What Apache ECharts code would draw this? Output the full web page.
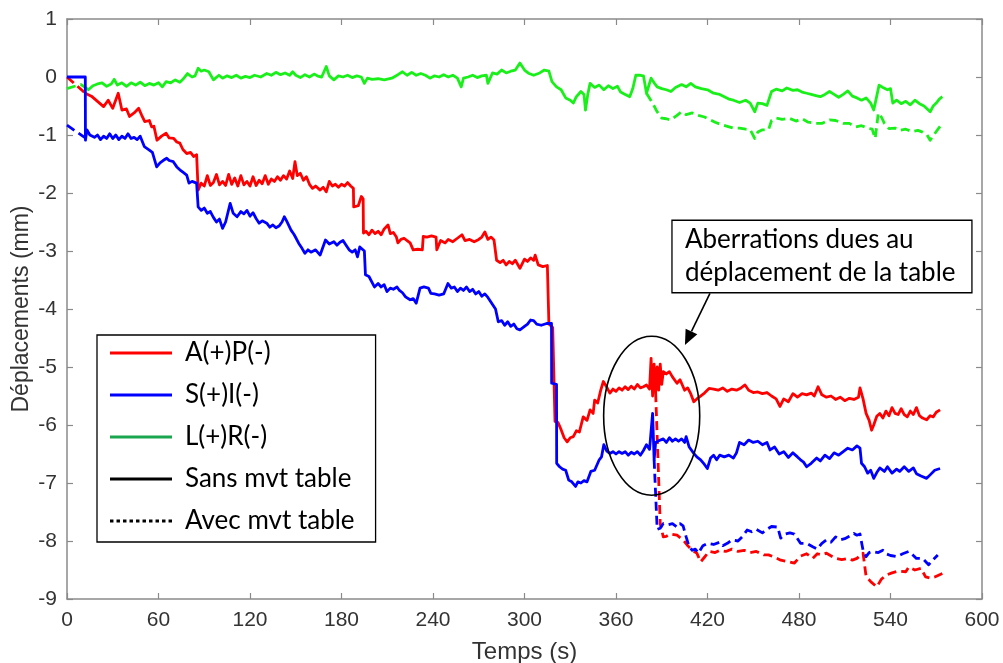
<!DOCTYPE html>
<html><head><meta charset="utf-8">
<script src="https://cdn.jsdelivr.net/npm/echarts@6/dist/echarts.min.js"></script>
<style>html,body{margin:0;padding:0;background:#fff}#c{width:1003px;height:663px}</style>
</head><body><div id="c"></div>
<script>
// ---- data: [time (s), displacement (mm)] ----
const redSans = [[12,-0.28],[16,-0.33],[20,-0.42],[24,-0.51],[27,-0.40],[30,-0.54],[33.6,-0.28],[36,-0.57],[39,-0.55],[41,-0.68],[44,-0.62],[47,-0.54],[49,-0.66],[51,-0.77],[54,-0.75],[55.5,-0.86],[57,-0.85],[59,-1.09],[62,-1.02],[65,-0.97],[67,-1.05],[70,-1.06],[72,-1.12],[74,-1.14],[76,-1.25],[78.5,-1.32],[81,-1.30],[83,-1.37],[85,-1.34],[86,-1.95],[88,-1.83],[90,-1.88],[92,-1.70],[94,-1.87],[96,-1.82],[98,-1.68],[100,-1.86],[102,-1.80],[104,-1.87],[106,-1.68],[108,-1.85],[110,-1.74],[112,-1.88],[114,-1.70],[116,-1.86],[118,-1.80],[120,-1.88],[122,-1.72],[124,-1.87],[126,-1.78],[128,-1.84],[130,-1.70],[132,-1.85],[134,-1.76],[136,-1.80],[138,-1.72],[140,-1.78],[142,-1.70],[144,-1.76],[146,-1.62],[148,-1.75],[149.5,-1.46],[151,-1.70],[153,-1.66],[155,-1.78],[157,-1.72],[159,-1.85],[161,-1.92],[163,-1.88],[166,-1.95],[168,-1.90],[170,-1.98],[172,-1.80],[174,-1.88],[176,-1.85],[178,-1.90],[180,-1.85],[182,-1.88],[184,-1.82],[186,-1.88],[187.8,-1.92],[188,-2.24],[191,-2.22],[193,-2.06],[194.2,-2.10],[194.4,-2.69],[196,-2.66],[198,-2.72],[200,-2.64],[202,-2.70],[204,-2.66],[206,-2.72],[208,-2.62],[210.5,-2.55],[212,-2.70],[214,-2.68],[216,-2.76],[217,-2.86],[219,-2.80],[221,-2.78],[223,-2.82],[225,-2.86],[227,-2.98],[230,-2.97],[233,-2.98],[233.6,-2.75],[236,-2.76],[239,-2.74],[242,-2.76],[242.5,-2.98],[245,-2.82],[248,-2.86],[250,-2.80],[253,-2.84],[256,-2.78],[259,-2.72],[261,-2.82],[264,-2.80],[267,-2.84],[270,-2.80],[272,-2.76],[274,-2.67],[276,-2.80],[278,-2.76],[280,-2.81],[281.7,-3.16],[284,-3.20],[286,-3.16],[288,-3.24],[290,-3.18],[292,-3.22],[294,-3.16],[297,-3.30],[300,-3.14],[302,-3.18],[304,-3.12],[306,-3.16],[307,-3.07],[309,-3.24],[312,-3.27],[315,-3.25],[316,-4.26],[318.5,-4.32],[320,-5.94],[322,-5.96],[324,-6.08],[326,-6.22],[328,-6.29],[330,-6.22],[332,-6.20],[334,-6.10],[336,-6.12],[338.5,-5.86],[341,-5.92],[343,-5.74],[345,-5.80],[346,-5.57],[348,-5.62],[350,-5.40],[351.7,-5.25],[354,-5.35],[356,-5.45],[358,-5.38],[360,-5.42],[362,-5.36],[364,-5.40],[366,-5.34],[368,-5.39],[370,-5.33],[372,-5.38],[374,-5.30],[376,-5.36],[378,-5.34],[380,-5.31],[382,-5.38],[383,-4.85],[384,-5.50],[385,-4.95],[386,-5.45],[387,-5.00],[388,-5.40],[389,-4.95],[390,-5.30],[391,-5.08],[393,-5.12],[395,-5.08],[397,-5.17],[400,-5.28],[402,-5.22],[405,-5.40],[407,-5.36],[409,-5.46],[411,-5.60],[413,-5.55],[415,-5.51],[418,-5.45],[421,-5.37],[424,-5.38],[427,-5.40],[430,-5.36],[433,-5.42],[436,-5.38],[439,-5.40],[442,-5.36],[444.6,-5.31],[447,-5.40],[450,-5.44],[453,-5.43],[456,-5.46],[459,-5.44],[462,-5.50],[465,-5.55],[467.5,-5.68],[470,-5.55],[473,-5.60],[476,-5.46],[479,-5.52],[482,-5.46],[485,-5.48],[488,-5.45],[490,-5.50],[492.5,-5.34],[495,-5.48],[498,-5.52],[501,-5.50],[504,-5.56],[507,-5.52],[510,-5.58],[513,-5.54],[516,-5.56],[519,-5.52],[520,-5.36],[522,-5.55],[524,-5.80],[526,-5.92],[527.6,-6.09],[529,-6.00],[531,-5.85],[533,-5.80],[535,-5.88],[537,-5.76],[539,-5.84],[541,-5.70],[543,-5.80],[545,-5.82],[547,-5.72],[549,-5.82],[551,-5.86],[553,-5.76],[555,-5.82],[557,-5.70],[559,-5.84],[561,-5.88],[563.7,-5.91],[566,-5.84],[568,-5.86],[570,-5.78],[572.5,-5.74]];

const blueSans = [[0,0],[12,0],[12.1,-1.09],[13,-0.91],[15,-1.0],[18,-1.04],[20,-1.0],[22,-1.08],[24,-1.02],[26,-1.06],[28,-0.98],[30,-1.06],[32,-1.0],[34,-1.08],[36,-1.02],[38,-1.06],[40,-0.98],[42,-1.06],[44,-1.04],[46,-1.08],[48,-1.02],[50.7,-1.2],[52,-1.18],[54,-1.26],[56,-1.3],[58.8,-1.55],[61,-1.48],[63,-1.44],[65.4,-1.40],[67,-1.44],[69.7,-1.46],[72,-1.55],[74,-1.60],[76,-1.64],[78.5,-1.69],[80,-1.83],[82,-1.80],[85,-1.83],[86,-2.24],[88,-2.30],[90,-2.26],[92,-2.35],[94,-2.32],[96,-2.42],[98,-2.50],[100,-2.45],[102,-2.61],[104,-2.50],[107,-2.18],[109,-2.35],[111.5,-2.41],[114,-2.32],[116,-2.36],[118,-2.30],[120,-2.40],[122,-2.34],[124,-2.44],[126,-2.52],[128,-2.48],[131,-2.52],[133,-2.59],[135,-2.55],[137,-2.60],[139,-2.57],[141,-2.50],[142.5,-2.41],[144,-2.48],[146.9,-2.64],[149,-2.72],[152,-2.87],[154,-2.95],[156,-3.04],[158,-2.98],[160,-3.02],[163,-2.98],[166,-3.07],[169.5,-2.81],[172,-2.88],[175,-2.84],[177,-2.90],[179,-2.85],[181,-2.82],[183,-2.90],[185,-2.98],[187,-3.02],[189,-2.98],[190.5,-3.10],[192,-2.93],[195,-3.00],[195.7,-3.41],[198,-3.44],[201.6,-3.62],[204,-3.56],[206,-3.62],[208,-3.58],[209.8,-3.70],[212,-3.64],[214,-3.66],[216.4,-3.62],[218,-3.68],[220,-3.72],[222,-3.79],[225,-3.84],[227,-3.82],[229,-3.90],[231.5,-3.64],[234,-3.62],[237,-3.64],[238.6,-3.73],[241,-3.74],[244,-3.76],[247,-3.74],[249.8,-3.56],[252,-3.64],[254,-3.62],[256,-3.70],[258,-3.64],[260,-3.68],[262,-3.62],[264,-3.70],[266,-3.66],[268,-3.74],[270,-3.70],[272,-3.78],[274,-3.74],[276,-3.80],[278.5,-3.90],[281,-4.00],[282.8,-4.22],[285,-4.20],[287,-4.28],[289,-4.22],[291,-4.30],[293,-4.26],[295,-4.34],[297,-4.36],[300,-4.30],[302,-4.26],[304,-4.19],[306,-4.20],[308,-4.26],[311,-4.28],[314.5,-4.25],[317.7,-4.25],[317.8,-5.28],[321,-5.30],[321.1,-6.66],[323,-6.72],[325,-6.76],[327,-6.78],[329,-6.95],[331,-6.98],[333.5,-7.06],[335,-6.98],[337,-7.00],[339,-6.96],[341,-6.98],[343.5,-6.80],[346,-6.78],[349,-6.60],[350.5,-6.55],[352,-6.34],[354,-6.45],[356,-6.49],[358,-6.46],[360,-6.50],[362,-6.46],[364,-6.49],[366,-6.46],[368,-6.52],[370,-6.47],[372,-6.50],[374,-6.46],[376,-6.52],[378,-6.44],[380,-6.34],[382,-6.42],[384,-5.80],[385,-6.60],[386,-6.30],[387,-6.31],[389,-6.26],[391,-6.24],[393,-6.30],[395,-6.22],[397,-6.28],[399,-6.24],[401,-6.28],[403,-6.24],[405,-6.30],[406,-6.20],[408,-6.38],[411,-6.49],[413,-6.55],[415.5,-6.60],[418,-6.68],[419.9,-6.75],[422,-6.57],[424,-6.52],[426,-6.60],[428,-6.52],[431,-6.55],[434,-6.52],[437,-6.57],[439,-6.48],[441,-6.30],[444,-6.34],[447,-6.26],[450,-6.30],[453,-6.28],[456,-6.34],[459,-6.30],[461,-6.43],[464,-6.38],[467,-6.50],[470,-6.46],[473,-6.56],[476,-6.48],[479,-6.55],[481,-6.60],[483,-6.64],[485,-6.72],[488,-6.66],[491.6,-6.57],[494,-6.62],[497,-6.52],[500,-6.58],[503,-6.48],[506,-6.52],[509,-6.46],[512,-6.40],[515,-6.43],[518,-6.36],[520,-6.40],[521,-6.66],[523,-6.72],[525,-6.83],[527,-6.78],[529,-6.92],[531,-6.82],[533,-6.74],[536,-6.80],[538,-6.72],[541,-6.83],[544,-6.76],[546,-6.80],[549,-6.72],[552,-6.80],[555,-6.74],[557,-6.84],[560,-6.88],[563.7,-6.92],[566,-6.86],[569,-6.78],[572.5,-6.75]];

const greenSans = [[12,-0.18],[14,-0.22],[17,-0.15],[20,-0.12],[23,-0.10],[26,-0.16],[29,-0.12],[31,-0.04],[33,-0.14],[36,-0.10],[39,-0.16],[42,-0.10],[45,-0.14],[48,-0.09],[51,-0.15],[54,-0.11],[57,-0.14],[60,-0.10],[62.5,-0.17],[65,-0.08],[68,-0.10],[71,-0.05],[74,-0.09],[76,-0.04],[79,0.06],[82,0.0],[84,0.02],[86,0.15],[88,0.10],[90,0.12],[93,0.09],[96,-0.05],[99.6,0.03],[102,-0.02],[105,0.02],[108,-0.01],[111,0.03],[114,-0.02],[117,0.01],[120,-0.01],[123,0.03],[127,0.0],[131,0.06],[134,0.03],[137,0.08],[140,0.04],[143,0.07],[146,0.03],[148,0.09],[150,0.03],[153,-0.01],[156,0.04],[159,0.0],[162,0.05],[165,0.01],[167,0.0],[170,0.18],[172,0.02],[175,-0.05],[178,0.02],[181,0.0],[184,0.03],[187,-0.01],[190,0.02],[193,0.0],[195,-0.11],[197,-0.02],[200,-0.04],[204,-0.03],[208,-0.05],[213,-0.02],[217,0.04],[220,0.09],[223,0.03],[226,0.08],[229,0.03],[232,0.06],[235,0.03],[238,-0.02],[241,0.02],[244,0.0],[247,0.04],[250,0.0],[253,0.03],[256,-0.02],[258.5,-0.17],[260,-0.02],[263,0.0],[266,0.03],[269,-0.01],[272,0.02],[275,0.03],[276,-0.11],[279,0.07],[282,0.05],[285,0.12],[288,0.07],[291,0.10],[294,0.12],[297,0.24],[300,0.12],[303,0.06],[306,0.03],[310,0.07],[313,0.12],[316,0.10],[318,-0.08],[321,-0.17],[324,-0.22],[327,-0.36],[330,-0.40],[332,-0.45],[334,-0.34],[337,-0.25],[339,-0.30],[340,-0.57],[341.5,-0.30],[343,-0.11],[346,-0.18],[349,-0.14],[352,-0.22],[355,-0.15],[358,-0.20],[361,-0.16],[363,-0.26],[366,-0.30],[369,-0.34],[371,-0.20],[373,0.03],[376,0.03],[378,0.02],[380,-0.28],[383,-0.02],[385,-0.10],[387,-0.17],[390,-0.20],[393,-0.22],[396,-0.25],[399,-0.18],[403,-0.13],[406,-0.17],[409,-0.11],[412,-0.17],[416,-0.20],[420,-0.22],[424,-0.28],[428,-0.30],[431,-0.34],[434,-0.38],[437,-0.40],[441,-0.44],[445,-0.40],[448,-0.45],[451,-0.60],[453,-0.45],[456,-0.46],[459,-0.49],[462,-0.25],[465,-0.21],[469,-0.24],[472,-0.19],[476,-0.23],[479,-0.22],[482,-0.26],[485,-0.28],[488,-0.30],[491,-0.32],[494,-0.34],[497,-0.30],[500,-0.25],[503,-0.30],[506,-0.35],[509,-0.30],[512,-0.24],[515,-0.33],[518,-0.36],[521,-0.40],[524,-0.36],[527,-0.45],[529,-0.57],[530,-0.45],[532.5,-0.14],[535,-0.18],[538,-0.22],[540,-0.20],[541.5,-0.45],[544,-0.40],[547,-0.46],[550,-0.42],[553,-0.48],[556,-0.40],[559,-0.46],[562,-0.50],[566,-0.60],[568,-0.50],[570,-0.45],[572,-0.38],[574,-0.34]];

const redAvecStart = [[0,0],[12,-0.28]];
const blueAvecStart = [[0,-0.83],[12,-1.05]];
const greenAvecStart = [[0,-0.20],[5,-0.16],[9,-0.13],[12,-0.18]];

const redAvec = [[386,-5.45],[389,-7.70],[391,-7.93],[393,-7.92],[396,-7.88],[400,-7.90],[404,-7.98],[407,-8.08],[410,-8.16],[413,-8.21],[415.5,-8.36],[418,-8.28],[421,-8.18],[425,-8.20],[428,-8.16],[432,-8.18],[436,-8.14],[440,-8.18],[444,-8.16],[448,-8.20],[452,-8.18],[457,-8.24],[460,-8.24],[464,-8.28],[468,-8.33],[472,-8.35],[477,-8.38],[481,-8.26],[485,-8.22],[489,-8.30],[492,-8.22],[495,-8.24],[498,-8.21],[504,-8.30],[508,-8.32],[512,-8.30],[515,-8.33],[518,-8.30],[522,-8.21],[524,-8.61],[527,-8.70],[531,-8.79],[534,-8.66],[537,-8.59],[541,-8.55],[545,-8.52],[550,-8.53],[552,-8.45],[556,-8.50],[560,-8.47],[563,-8.62],[566,-8.64],[569,-8.62],[574,-8.56]];

const blueAvec = [[385,-6.60],[387,-7.80],[389,-7.78],[391,-7.70],[394,-7.72],[397,-7.70],[400,-7.76],[402,-7.70],[404,-7.74],[406,-7.93],[408,-8.10],[410,-8.16],[412,-8.14],[414,-8.21],[417,-8.08],[420,-8.04],[424,-8.06],[428,-8.02],[430,-8.08],[433,-8.04],[436,-7.98],[440,-8.00],[443,-7.92],[446,-7.81],[449,-7.84],[452,-7.80],[456,-7.86],[459,-7.80],[462,-7.75],[466,-7.76],[468,-7.95],[471,-7.88],[474,-7.86],[477,-7.88],[481,-8.04],[485,-8.04],[489,-8.10],[492,-8.14],[495,-8.04],[498,-7.98],[501,-8.02],[504,-7.93],[507,-7.98],[510,-7.96],[513,-7.92],[516,-7.87],[518,-7.90],[520,-7.88],[522,-8.16],[524,-8.27],[526,-8.20],[528,-8.18],[532,-8.20],[535,-8.16],[537,-8.22],[540,-8.25],[544,-8.27],[548,-8.22],[552,-8.18],[555,-8.25],[557,-8.30],[561,-8.30],[565,-8.41],[568,-8.32],[571,-8.24]];

const greenAvec = [[380,-0.28],[384,-0.45],[387,-0.60],[390,-0.71],[393,-0.72],[396,-0.74],[400,-0.66],[403,-0.60],[406,-0.65],[410,-0.62],[414,-0.66],[418,-0.69],[422,-0.74],[425,-0.78],[429,-0.82],[433,-0.85],[437,-0.88],[441,-0.88],[445,-0.90],[448,-0.91],[451,-1.06],[453,-0.95],[456,-0.91],[460,-0.91],[462,-0.75],[465,-0.71],[469,-0.73],[473.5,-0.71],[478,-0.76],[482,-0.72],[486,-0.78],[491,-0.80],[495,-0.80],[500,-0.74],[504,-0.75],[509,-0.80],[513,-0.80],[517,-0.86],[521,-0.84],[525,-0.88],[528,-0.90],[530,-1.06],[532,-0.62],[534,-0.69],[536,-0.80],[539,-0.89],[543,-0.88],[546,-0.92],[550,-0.90],[554,-0.94],[558,-0.92],[561,-0.95],[564,-1.00],[566,-1.09],[570,-0.94],[574,-0.80]];

const seriesNames = ['A(+)P(-)', 'S(+)I(-)', 'L(+)R(-)', 'Sans mvt table', 'Avec mvt table'];
const xRange = [0, 600], xStep = 60;
const yRange = [-9, 1], yStep = 1;
const annotationLines = ['Aberrations dues au', 'déplacement de la table'];
const xName = 'Temps (s)', yName = 'Déplacements (mm)';

// ---- chart ----
const RED = '#ff0000', BLUE = '#0000ff', GREEN = '#19f019', LEG_GREEN = '#1aa64e';
const chart = echarts.init(document.getElementById('c'), null, { renderer: 'canvas' });

function ln(name, data, color, dashed, z) {
  return {
    type: 'line', name, data, symbol: 'none', showSymbol: false, animation: false,
    xAxisIndex: 0, yAxisIndex: 0, z: z || 3, silent: true,
    lineStyle: { color, width: 2.8, type: dashed ? [9, 5] : 'solid', cap: 'butt', join: 'round' },
    itemStyle: { color }
  };
}

// legend icons: a solid bar and a dotted bar
let dots = 'path://';
for (let i = 0; i < 10; i++) dots += 'M' + (i * 6.4) + ',0h3.4v3h-3.4z';
const bar = 'rect';

const axisCol = '#8a8a8a', labCol = '#333333';
function axisCommon() {
  return {
    axisLine: { show: true, onZero: false, lineStyle: { color: axisCol, width: 1.5 } },
    axisTick: { show: true, inside: true, length: 6, lineStyle: { color: axisCol, width: 1.2 } },
    splitLine: { show: false }
  };
}
const option = {
  animation: false,
  backgroundColor: '#ffffff',
  grid: { left: 67, right: 21, top: 19, bottom: 64, containLabel: false, outerBoundsMode: 'none' },
  xAxis: [
    Object.assign(axisCommon(), { type: 'value', min: xRange[0], max: xRange[1], interval: xStep, position: 'bottom',
      axisLabel: { color: labCol, fontSize: 21, fontFamily: 'Liberation Sans', margin: 11 },
      name: xName, nameLocation: 'middle', nameGap: 41, nameMoveOverlap: false,
      nameTextStyle: { color: labCol, fontSize: 24, fontFamily: 'Liberation Sans' } }),
    Object.assign(axisCommon(), { type: 'value', min: xRange[0], max: xRange[1], interval: xStep, position: 'top',
      axisLabel: { show: false } })
  ],
  yAxis: [
    Object.assign(axisCommon(), { type: 'value', min: yRange[0], max: yRange[1], interval: yStep, position: 'left',
      axisLabel: { color: labCol, fontSize: 21, fontFamily: 'Liberation Sans', margin: 10 },
      name: yName, nameLocation: 'middle', nameGap: 34, nameRotate: 90, nameMoveOverlap: false,
      nameTextStyle: { color: labCol, fontSize: 23, fontFamily: 'Liberation Sans' } }),
    Object.assign(axisCommon(), { type: 'value', min: yRange[0], max: yRange[1], interval: yStep, position: 'right',
      axisLabel: { show: false } })
  ],
  legend: {
    orient: 'vertical', left: 97, top: 335, selectedMode: false, symbolKeepAspect: false,
    itemWidth: 62, itemHeight: 3, itemGap: 14,
    padding: [4, 21, 7, 13],
    borderColor: '#000', borderWidth: 1.3, backgroundColor: '#ffffff',
    textStyle: { fontFamily: 'Lato', fontSize: 26, color: '#000', lineHeight: 28, padding: [0, 0, 0, 8] },
    data: [
      { name: seriesNames[0], icon: bar, itemStyle: { color: RED } },
      { name: seriesNames[1], icon: bar, itemStyle: { color: BLUE } },
      { name: seriesNames[2], icon: bar, itemStyle: { color: LEG_GREEN } },
      { name: seriesNames[3], icon: bar, itemStyle: { color: '#000' } },
      { name: seriesNames[4], icon: dots, itemStyle: { color: '#000' } }
    ]
  },
  series: [
    ln('avecG', greenAvec, GREEN, true, 2),
    ln('avecGs', greenAvecStart, GREEN, true, 2),
    ln('avecR', redAvec, RED, true, 2),
    ln('avecRs', redAvecStart, RED, true, 2),
    ln('avecB', blueAvec, BLUE, true, 2),
    ln('avecBs', blueAvecStart, BLUE, true, 2),
    ln(seriesNames[2], greenSans, GREEN, false, 3),
    ln(seriesNames[0], redSans, RED, false, 3),
    ln(seriesNames[1], blueSans, BLUE, false, 4),
    ln(seriesNames[3], [], '#000', false, 1),
    ln(seriesNames[4], [], '#000', true, 1)
  ]
};
chart.setOption(option);

// ---- annotations placed in data coordinates ----
const ellipseCenter = [383.4, -5.84], ellipseRadius = [31.5, 1.37];
const boxTL = [396.7, -2.47], boxBR = [593.4, -3.72];
const arrowFrom = [421.6, -3.73], arrowTo = [405.2, -4.62];
function P(p) { return chart.convertToPixel({ xAxisIndex: 0, yAxisIndex: 0 }, p); }
const ec = P(ellipseCenter), er = P([ellipseCenter[0] + ellipseRadius[0], ellipseCenter[1] + ellipseRadius[1]]);
const b1 = P(boxTL), b2 = P(boxBR), a1 = P(arrowFrom), a2 = P(arrowTo);
const dx = a2[0] - a1[0], dy = a2[1] - a1[1], L = Math.hypot(dx, dy), ux = dx / L, uy = dy / L;
const hl = 15, hw = 6.5;
const base = [a2[0] - ux * hl, a2[1] - uy * hl];
chart.setOption({
  graphic: [
    { type: 'ellipse', z: 10, silent: true, shape: { cx: ec[0], cy: ec[1], rx: er[0] - ec[0], ry: ec[1] - er[1] },
      style: { fill: null, stroke: '#000', lineWidth: 1.6 } },
    { type: 'rect', z: 10, silent: true, shape: { x: b1[0], y: b1[1], width: b2[0] - b1[0], height: b2[1] - b1[1] },
      style: { fill: '#fff', stroke: '#000', lineWidth: 1.3 } },
    { type: 'text', z: 11, silent: true, x: b1[0] + 13, y: b1[1] + 2.5,
      style: { text: annotationLines.join('\n'), font: '26px Lato', fill: '#000', lineHeight: 33 } },
    { type: 'line', z: 10, silent: true, shape: { x1: a1[0], y1: a1[1], x2: base[0], y2: base[1] },
      style: { stroke: '#000', lineWidth: 1.6 } },
    { type: 'polygon', z: 10, silent: true,
      shape: { points: [a2, [base[0] - uy * hw, base[1] + ux * hw], [base[0] + uy * hw, base[1] - ux * hw]] },
      style: { fill: '#000' } }
  ]
});
</script>
</body></html>
